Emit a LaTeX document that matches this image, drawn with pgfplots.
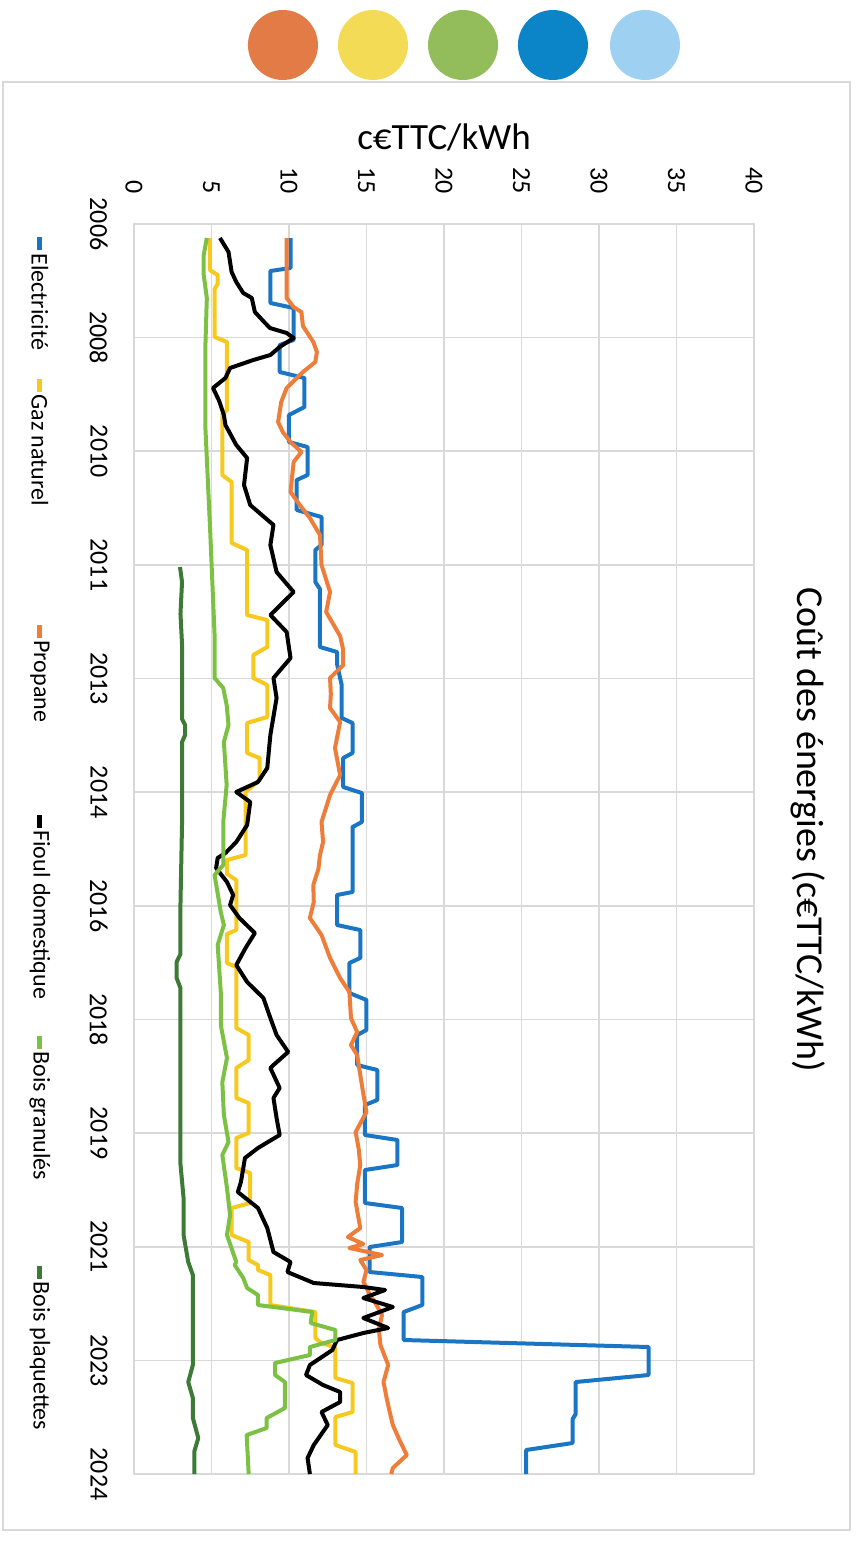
\documentclass[border=0pt]{standalone}
\usepackage{fontspec}
\setmainfont{Carlito}
\usepackage{pgfplots}
\pgfplotsset{compat=1.18}
\definecolor{elec}{HTML}{1A75C4}
\definecolor{gaz}{HTML}{F7C81E}
\definecolor{prop}{HTML}{EE7D3A}
\definecolor{granu}{HTML}{7CC144}
\definecolor{plaq}{HTML}{3D7A35}
\definecolor{gridc}{HTML}{D9D9D9}
\definecolor{cA}{HTML}{E27B45}
\definecolor{cB}{HTML}{F4DB55}
\definecolor{cC}{HTML}{93BD5B}
\definecolor{cD}{HTML}{0C84C8}
\definecolor{cE}{HTML}{9ED1F1}
\begin{document}
\begin{tikzpicture}
\begin{axis}[
  scale only axis, width=310pt, height=625pt,
  xmin=0, xmax=40, ymin=0, ymax=1250, y dir=reverse,
  xtick={0,5,...,40},
  ytick={0,113.636,227.273,340.909,454.545,568.182,681.818,795.455,909.091,1022.727,1136.364,1250},
  yticklabels={2006,2008,2010,2011,2013,2014,2016,2018,2019,2021,2023,2024},
  xticklabel pos=right,
  grid=major, major grid style={gridc, line width=0.8pt},
  axis line style={gridc, line width=0.8pt},
  major tick length=0pt,
  tick label style={font=\fontsize{13}{15}\selectfont},
  xticklabel style={rotate=-90, anchor=east, inner sep=0pt},
  xticklabel shift=15pt,
  yticklabel style={rotate=-90, anchor=north, inner sep=0pt},
  yticklabel shift=13pt,
  /pgf/number format/assume math mode=true,
  xlabel={c€TTC/kWh},
  xlabel style={at={(axis description cs:0.5,1.069)}, anchor=center, font=\fontsize{18.5}{20}\selectfont},
  title={Coût des énergies (c€TTC/kWh)},
  title style={at={(axis description cs:1.087,0.506)}, anchor=center, rotate=-90, font=\fontsize{19}{21}\selectfont},
  every axis plot/.append style={line width=2pt, line join=round},
  clip=false,
]
\addplot[elec] coordinates {(10.1,14) (10.1,44) (8.8,47) (8.8,79) (10.3,84) (10.3,116) (9.4,121) (9.4,148) (11.0,154) (11.0,183) (10.0,191) (10.0,218) (11.2,223) (11.2,251) (10.5,256) (10.5,286) (12.1,293) (12.1,321) (11.7,326) (11.7,358) (12.0,365) (12.0,423) (13.1,428) (13.1,440) (13.4,461) (13.4,494) (14.1,499) (14.1,529) (13.5,534) (13.5,563) (14.7,569) (14.7,598) (14.1,603) (14.1,668) (13.1,671) (13.1,701) (14.6,706) (14.6,734) (13.9,739) (13.9,769) (15.0,776) (15.0,806) (14.4,811) (14.4,841) (15.7,846) (15.7,876) (14.9,881) (14.9,911) (17.0,916) (17.0,941) (14.9,946) (14.9,979) (17.3,984) (17.3,1018) (15.2,1023) (15.2,1048) (18.6,1053) (18.6,1081) (17.4,1088) (17.4,1116) (33.2,1123) (33.2,1151) (28.5,1158) (28.5,1190) (28.3,1195) (28.3,1219) (25.3,1226) (25.3,1250)};
\addplot[gaz] coordinates {(4.9,14) (4.9,46) (5.4,51) (5.4,60) (5.2,65) (5.2,113) (6.0,118) (6.0,186) (5.7,191) (5.7,251) (6.3,258) (6.3,319) (7.3,326) (7.3,391) (8.6,396) (8.6,423) (7.7,431) (7.7,454) (8.6,461) (8.6,493) (7.3,499) (7.3,529) (8.1,534) (8.1,556) (7.2,568) (7.2,631) (6.0,636) (6.0,650) (6.6,656) (6.6,706) (6.0,710) (6.0,739) (6.6,743) (6.6,804) (7.4,811) (7.4,836) (6.6,844) (6.6,874) (7.4,879) (7.4,909) (6.6,914) (6.6,944) (7.5,949) (7.5,979) (6.3,984) (6.3,1011) (7.4,1018) (7.4,1036) (8.0,1041) (8.0,1046) (8.8,1051) (8.8,1081) (11.7,1088) (11.7,1114) (12.0,1118) (13.0,1124) (13.0,1154) (14.1,1159) (14.1,1188) (13.0,1193) (13.0,1221) (14.3,1228) (14.3,1250)};
\addplot[prop] coordinates {(9.85,14) (9.85,74) (10.3,83) (10.8,88) (10.9,102) (11.57,118) (11.8,128) (11.7,138) (10.9,148) (10.5,154) (9.85,164) (9.5,178) (9.3,198) (9.6,208) (10.1,218) (10.8,228) (10.3,238) (10.1,268) (10.7,281) (11.35,294) (12.0,311) (12.1,341) (12.65,368) (12.4,388) (13.3,412) (13.5,426) (13.5,441) (12.65,454) (12.7,470) (12.65,484) (13.3,498) (12.97,524) (13.3,551) (12.65,571) (12.1,598) (12.2,618) (12.0,631) (11.9,645) (11.57,661) (11.6,678) (11.35,694) (12.1,711) (12.65,734) (13.3,754) (13.9,768) (14.0,794) (14.4,808) (14.0,821) (14.4,831) (14.6,851) (14.8,870) (15.0,888) (14.3,908) (14.5,925) (14.6,941) (14.4,960) (14.3,978) (14.6,1004) (13.8,1013) (14.8,1020) (13.9,1024) (16.0,1031) (14.6,1036) (15.0,1046) (14.8,1058) (15.2,1070) (15.65,1081) (16.0,1091) (15.8,1105) (15.9,1121) (16.4,1141) (16.1,1158) (16.3,1174) (16.5,1188) (16.7,1201) (17.1,1215) (17.6,1231) (16.7,1244) (16.6,1250)};
\addplot[black] coordinates {(5.55,14) (6.1,28) (6.3,48) (6.6,58) (7.05,69) (7.6,74) (7.8,88) (8.4,98) (8.77,104) (9.85,109) (10.3,114) (9.4,123) (8.8,131) (7.7,136) (6.2,144) (5.9,154) (5.1,164) (5.5,177) (5.8,191) (5.9,201) (6.6,221) (7.3,234) (7.1,261) (7.5,281) (9.0,301) (8.8,321) (9.2,348) (10.3,368) (8.8,391) (9.85,408) (10.1,434) (9.0,454) (9.2,474) (8.8,511) (8.6,544) (8.0,558) (6.6,568) (7.5,578) (7.3,601) (6.6,618) (5.9,629) (5.4,634) (5.3,644) (6.0,658) (6.4,671) (6.2,681) (6.8,694) (7.8,709) (7.2,724) (6.6,741) (7.3,758) (8.35,774) (8.8,794) (9.2,811) (9.95,828) (9.0,841) (8.8,844) (9.4,864) (9.0,874) (9.2,894) (9.4,911) (8.0,924) (7.16,934) (6.9,958) (6.7,968) (8.0,984) (8.6,1004) (9.0,1028) (10.1,1038) (9.9,1048) (11.6,1059) (14.8,1063) (16.2,1066) (14.8,1074) (16.7,1083) (14.8,1094) (16.4,1104) (14.8,1109) (13.1,1116) (12.8,1126) (11.35,1141) (11.1,1151) (12.2,1161) (13.3,1168) (13.3,1178) (12.1,1188) (12.5,1201) (11.6,1221) (11.2,1234) (11.35,1250)};
\addplot[granu] coordinates {(4.7,14) (4.5,31) (4.5,51) (4.7,74) (4.6,126) (4.6,201) (4.9,301) (5.2,411) (5.2,454) (5.76,464) (5.98,481) (6.1,501) (5.8,518) (5.98,561) (5.76,598) (5.76,641) (5.2,651) (5.6,688) (5.8,701) (5.4,721) (5.6,768) (5.6,801) (6.0,834) (5.7,858) (5.8,891) (6.1,918) (5.7,931) (6.0,964) (6.2,991) (6.0,1011) (6.6,1038) (6.5,1041) (7.05,1054) (7.3,1064) (8.0,1071) (8.0,1081) (11.5,1088) (11.4,1099) (13.0,1106) (13.0,1116) (11.35,1123) (11.35,1131) (9.1,1139) (9.1,1151) (9.74,1158) (9.74,1184) (8.56,1194) (8.56,1204) (7.27,1211) (7.4,1250)};
\addplot[plaq] coordinates {(2.97,343) (3.1,358) (3.0,390) (3.1,420) (3.1,495) (3.3,501) (3.3,511) (3.1,518) (3.1,600) (3.0,680) (3.0,730) (2.75,738) (2.75,754) (3.0,764) (3.0,880) (3.0,940) (3.2,974) (3.2,1011) (3.5,1038) (3.8,1051) (3.8,1141) (3.5,1158) (3.8,1174) (3.8,1194) (4.15,1214) (3.9,1227) (3.9,1250)};
\addplot[only marks, mark=*, mark size=16.5pt, color=cA, forget plot] coordinates {(9.61,-179)};
\addplot[only marks, mark=*, mark size=16.5pt, color=cB, forget plot] coordinates {(15.42,-179)};
\addplot[only marks, mark=*, mark size=16.5pt, color=cC, forget plot] coordinates {(21.23,-179)};
\addplot[only marks, mark=*, mark size=16.5pt, color=cD, forget plot] coordinates {(27.03,-179)};
\addplot[only marks, mark=*, mark size=16.5pt, color=cE, forget plot] coordinates {(32.97,-179)};
% legend (rotated, as in the reference)
\draw[elec, line width=2.5pt] (axis description cs:-0.1516,0.9896) -- (axis description cs:-0.1516,0.9792);
\node[rotate=-90, anchor=west, inner sep=0pt, font=\fontsize{12}{14}\selectfont] at (axis description cs:-0.1516,0.9768) {Electricité};
\draw[gaz, line width=2.5pt] (axis description cs:-0.1516,0.876) -- (axis description cs:-0.1516,0.8656);
\node[rotate=-90, anchor=west, inner sep=0pt, font=\fontsize{12}{14}\selectfont] at (axis description cs:-0.1516,0.864) {Gaz naturel};
\draw[prop, line width=2.5pt] (axis description cs:-0.1516,0.6792) -- (axis description cs:-0.1516,0.6688);
\node[rotate=-90, anchor=west, inner sep=0pt, font=\fontsize{12}{14}\selectfont] at (axis description cs:-0.1516,0.6672) {Propane};
\draw[black, line width=2.5pt] (axis description cs:-0.1516,0.5272) -- (axis description cs:-0.1516,0.5168);
\node[rotate=-90, anchor=west, inner sep=0pt, font=\fontsize{12}{14}\selectfont] at (axis description cs:-0.1516,0.5152) {Fioul domestique};
\draw[granu, line width=2.5pt] (axis description cs:-0.1516,0.3504) -- (axis description cs:-0.1516,0.34);
\node[rotate=-90, anchor=west, inner sep=0pt, font=\fontsize{12}{14}\selectfont] at (axis description cs:-0.1516,0.3384) {Bois granulés};
\draw[plaq, line width=2.5pt] (axis description cs:-0.1516,0.1664) -- (axis description cs:-0.1516,0.156);
\node[rotate=-90, anchor=west, inner sep=0pt, font=\fontsize{12}{14}\selectfont] at (axis description cs:-0.1516,0.1544) {Bois plaquettes};
\draw[gridc, line width=0.8pt] (axis description cs:-0.211,-0.0448) rectangle (axis description cs:1.155,1.1136);
\path (axis description cs:-0.2161,-0.0632) rectangle (axis description cs:1.1661,1.1792);
\end{axis}
\end{tikzpicture}
\end{document}
